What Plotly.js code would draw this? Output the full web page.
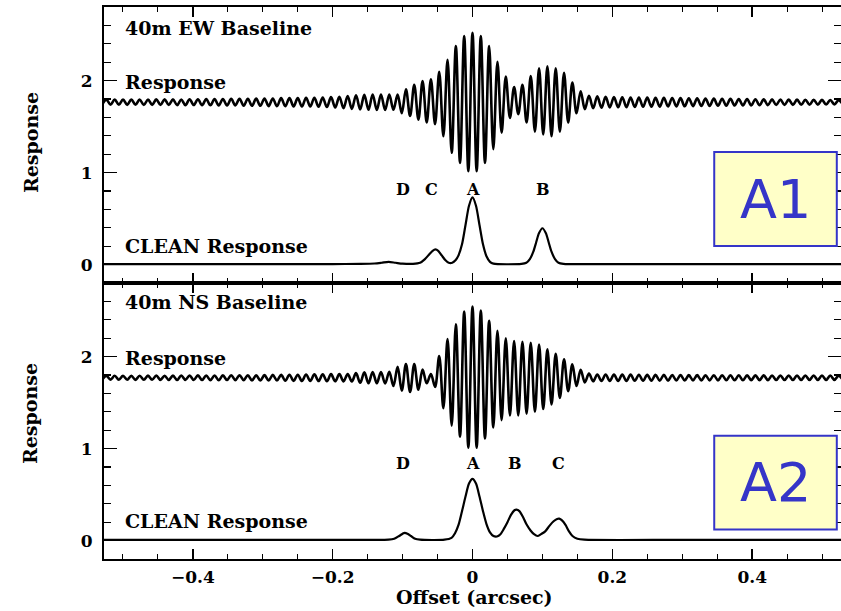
<!DOCTYPE html>
<html>
<head>
<meta charset="utf-8">
<script src="https://cdn.plot.ly/plotly-3.0.1.min.js"></script>
<style>html,body{margin:0;padding:0;background:#fff;}#chart{width:841px;height:611px;}</style>
</head>
<body>
<div id="chart"></div>
<script>
// ---------------- DATA ----------------
// Fringe "Response": half-amplitude of each successive extremum (half-cycle),
// listed left to right. Left arrays end at the extremum just left of 0.
const fringeHalfPeriod = 0.00595;   // arcsec between a crest and the next trough
const ewBaseline = 1.765;
const nsBaseline = 1.77;

const ewAmpLeft = [
  0.026,0.028,0.027,0.029,0.028,0.03,0.029,0.03,0.028,0.03,0.031,0.03,0.029,0.031,0.03,0.032,0.03,0.031,0.032,0.03,0.032,0.033,0.031,0.033,0.032,0.034,0.033,0.034,0.035,0.034,
  0.035,0.036,0.035,0.037,0.038,0.037,0.039,0.04,0.039,0.041,0.042,0.041,0.043,0.044,0.043,0.045,0.046,0.045,0.047,0.048,0.047,0.049,0.05,0.05,
  0.052,0.055,0.058,0.06,0.065,0.068,
  0.072,0.075,0.078,0.08,0.082,0.083,0.085,0.084,0.085,0.083,0.082,
  0.083,0.12,0.14,0.15,0.19,0.19,0.23,0.22,0.25,0.24,0.33,0.37,0.46,0.55,0.61,0.66,0.72,0.75
];
const ewAmpCenter = 0.755;
const ewAmpRight = [
  0.75,0.72,0.66,0.61,0.51,0.44,0.33,0.28,0.17,0.165,0.13,0.19,0.22,0.285,0.32,0.37,0.35,0.39,0.37,0.37,0.32,0.32,0.22,0.215,0.12,0.12,0.075,0.07,0.065,0.065,
  0.06,0.058,0.056,0.055,0.055,0.054,0.053,0.052,0.052,0.051,0.05,0.05,0.049,0.048,0.048,0.047,0.046,0.046,0.045,0.044,0.044,0.043,0.042,0.042,0.041,0.04,0.04,0.039,0.038,
  0.038,0.037,0.037,0.036,0.035,0.035,0.034,0.034,0.033,0.033,0.032,0.032,0.031,0.031,0.03,0.03,0.029,0.029,0.028,0.028,0.027,0.027,0.026,0.026,0.025,0.025,0.024,0.024,0.023,0.023
];

const nsAmpLeft = [
  0.02,0.021,0.02,0.022,0.021,0.02,0.022,0.021,0.023,0.022,0.021,0.023,0.022,0.024,0.023,0.022,0.024,0.023,0.025,0.024,0.023,0.025,0.024,0.026,0.025,0.024,0.026,0.025,0.027,0.026,0.025,0.027,0.026,0.028,0.027,0.028,0.029,0.028,0.03,0.029,0.03,0.031,0.03,0.032,
  0.032,0.033,0.034,0.033,0.035,0.036,0.035,0.037,0.036,0.038,0.037,0.039,0.038,0.04,0.039,0.041,0.04,
  0.05,0.055,0.058,0.06,0.062,0.06,0.063,0.062,
  0.065,0.09,0.12,0.14,0.15,0.155,0.15,0.13,0.09,0.06,0.04,0.1,0.235,0.33,0.42,0.52,0.58,0.64,0.72,0.76
];
const nsAmpCenter = 0.775;
const nsAmpRight = [
  0.76,0.73,0.66,0.62,0.54,0.51,0.46,0.43,0.41,0.40,0.41,0.39,0.39,0.38,0.37,0.36,0.34,0.31,0.29,0.26,0.22,0.2,0.145,0.145,0.09,0.087,0.05,0.045,0.038,0.036,
  0.036,0.036,0.035,0.035,0.035,0.034,0.034,0.034,0.033,0.033,0.033,0.032,0.032,0.032,0.031,0.031,0.031,0.03,0.03,0.03,0.03,0.029,0.029,0.029,0.029,0.028,0.028,0.028,0.028,
  0.028,0.027,0.027,0.027,0.027,0.027,0.026,0.026,0.026,0.026,0.026,0.026,0.025,0.025,0.025,0.025,0.025,0.025,0.025,0.024,0.024,0.024,0.024,0.024,0.024,0.024,0.024,0.023,0.023,0.023
];

// CLEAN Response samples (offset in arcsec, response)
const ewCleanX = [-0.53,-0.4,-0.3,-0.2,-0.16,-0.14,-0.13,-0.12,-0.11,-0.1,-0.085,-0.075,-0.068,-0.062,-0.057,-0.053,-0.049,-0.044,-0.039,-0.034,-0.029,-0.024,-0.02,-0.015,-0.01,-0.005,0,0.005,0.01,0.015,0.02,0.025,0.03,0.07,0.077,0.082,0.087,0.091,0.095,0.1,0.105,0.109,0.113,0.118,0.123,0.13,0.2,0.3,0.4,0.53];
const ewCleanY = [0.005,0.005,0.006,0.006,0.008,0.012,0.02,0.03,0.02,0.01,0.008,0.02,0.06,0.11,0.15,0.165,0.15,0.1,0.05,0.02,0.02,0.05,0.1,0.22,0.43,0.64,0.73,0.64,0.43,0.22,0.09,0.03,0.01,0.008,0.02,0.06,0.14,0.24,0.34,0.395,0.34,0.24,0.14,0.06,0.02,0.008,0.006,0.005,0.006,0.005];

const nsCleanX = [-0.53,-0.3,-0.15,-0.12,-0.112,-0.105,-0.1,-0.097,-0.093,-0.088,-0.082,-0.075,-0.04,-0.03,-0.025,-0.02,-0.015,-0.01,-0.005,0,0.005,0.01,0.015,0.02,0.025,0.03,0.035,0.04,0.045,0.05,0.055,0.06,0.063,0.067,0.072,0.077,0.083,0.088,0.093,0.098,0.104,0.11,0.116,0.121,0.124,0.128,0.133,0.138,0.143,0.15,0.16,0.3,0.53];
const nsCleanY = [0.008,0.008,0.008,0.01,0.02,0.05,0.075,0.085,0.075,0.05,0.02,0.01,0.01,0.03,0.08,0.17,0.32,0.48,0.62,0.67,0.62,0.48,0.32,0.18,0.09,0.05,0.045,0.07,0.13,0.2,0.28,0.33,0.337,0.32,0.26,0.18,0.11,0.07,0.05,0.07,0.1,0.16,0.21,0.235,0.238,0.22,0.17,0.1,0.05,0.02,0.01,0.008,0.008];

// Component labels
const ewLabels = ['D','C','A','B'];
const ewLabelX = [-0.1,-0.059,0.001,0.101];
const nsLabels = ['D','A','B','C'];
const nsLabelX = [-0.099,0.0,0.061,0.123];

// ---------------- BUILD ----------------
function fringe(left, center, right, base){
  const amps = left.concat([center], right);
  const n0 = left.length;
  const x = [], y = [];
  amps.forEach((a, i) => {
    const j = i - n0;
    x.push(j * fringeHalfPeriod);
    y.push(base + (j % 2 === 0 ? a : -a));
  });
  return {x, y};
}
const ew = fringe(ewAmpLeft, ewAmpCenter, ewAmpRight, ewBaseline);
const ns = fringe(nsAmpLeft, nsAmpCenter, nsAmpRight, nsBaseline);

const lineStyle = {color:'black', width:2.6, shape:'spline', smoothing:1};
const cleanStyle = {color:'black', width:2.2, shape:'spline', smoothing:0.7};

const traces = [
  {x: ew.x, y: ew.y, xaxis:'x2', yaxis:'y2', mode:'lines', line: lineStyle, hoverinfo:'skip'},
  {x: ewCleanX, y: ewCleanY, xaxis:'x2', yaxis:'y2', mode:'lines', line: cleanStyle, hoverinfo:'skip'},
  {x: ns.x, y: ns.y, xaxis:'x', yaxis:'y', mode:'lines', line: lineStyle, hoverinfo:'skip'},
  {x: nsCleanX, y: nsCleanY, xaxis:'x', yaxis:'y', mode:'lines', line: cleanStyle, hoverinfo:'skip'}
];

const serif = {family:'DejaVu Serif, Liberation Serif, serif', size:17, color:'black', weight:'bold'};
const xCommon = {
  range:[-0.527,0.527], tick0:0, dtick:0.2, ticks:'inside', ticklen:10, tickwidth:1.5, tickcolor:'black',
  minor:{dtick:0.05, tick0:0, ticks:'inside', ticklen:5, tickwidth:1.2, tickcolor:'black', showgrid:false},
  showline:true, linewidth:2, linecolor:'black', mirror:'ticks', showgrid:false, zeroline:false,
  tickfont: serif, ticklabelstandoff: 2
};
const yCommon = {
  range:[-0.2,2.8], tickvals:[0,1,2], ticks:'inside', ticklen:13, tickwidth:1.5, tickcolor:'black',
  minor:{dtick:0.2, tick0:0, ticks:'inside', ticklen:7, tickwidth:1.2, tickcolor:'black', showgrid:false},
  showline:true, linewidth:2, linecolor:'black', mirror:'ticks', showgrid:false, zeroline:false,
  tickfont: serif, ticklabelstandoff: 6
};

const annFont = {family:'DejaVu Serif, Liberation Serif, serif', size:19, color:'black', weight:'bold'};
const annotations = [
  {xref:'x2', yref:'y2', x:-0.5, y:2.57, text:'40m EW Baseline', showarrow:false, xanchor:'left', yanchor:'middle', font:annFont},
  {xref:'x2', yref:'y2', x:-0.5, y:1.98, text:'Response', showarrow:false, xanchor:'left', yanchor:'middle', font:annFont},
  {xref:'x2', yref:'y2', x:-0.5, y:0.2, text:'CLEAN Response', showarrow:false, xanchor:'left', yanchor:'middle', font:annFont},
  {xref:'x', yref:'y', x:-0.5, y:2.59, text:'40m NS Baseline', showarrow:false, xanchor:'left', yanchor:'middle', font:annFont},
  {xref:'x', yref:'y', x:-0.5, y:1.98, text:'Response', showarrow:false, xanchor:'left', yanchor:'middle', font:annFont},
  {xref:'x', yref:'y', x:-0.5, y:0.21, text:'CLEAN Response', showarrow:false, xanchor:'left', yanchor:'middle', font:annFont},
  {xref:'paper', yref:'paper', x:-0.1, y:0.754, text:'Response', textangle:-90, showarrow:false, xanchor:'center', yanchor:'middle', font:annFont},
  {xref:'paper', yref:'paper', x:-0.1, y:0.263, text:'Response', textangle:-90, showarrow:false, xanchor:'center', yanchor:'middle', font:annFont},
  {xref:'paper', yref:'paper', x:0.503, y:-0.069, text:'Offset (arcsec)', showarrow:false, xanchor:'center', yanchor:'middle', font:annFont},
  {xref:'x2', yref:'y2', x:0.434, y:0.713, text:'A1', showarrow:false, xanchor:'center', yanchor:'middle', font:{family:'DejaVu Sans, Verdana, sans-serif', size:54, color:'#3535c8'}},
  {xref:'x', yref:'y', x:0.434, y:0.63, text:'A2', showarrow:false, xanchor:'center', yanchor:'middle', font:{family:'DejaVu Sans, Verdana, sans-serif', size:54, color:'#3535c8'}}
];
ewLabels.forEach((t,i)=>annotations.push({xref:'x2', yref:'y2', x:ewLabelX[i], y:0.82, text:t, showarrow:false, xanchor:'center', yanchor:'middle', font:{...annFont, size:16}}));
nsLabels.forEach((t,i)=>annotations.push({xref:'x', yref:'y', x:nsLabelX[i], y:0.84, text:t, showarrow:false, xanchor:'center', yanchor:'middle', font:{...annFont, size:16}}));

const shapes = [
  {type:'rect', xref:'x2', yref:'y2', x0:0.3457, x1:0.521, y0:0.202, y1:1.224, fillcolor:'#ffffc8', line:{color:'#3535c8', width:2}, layer:'above'},
  {type:'rect', xref:'x', yref:'y', x0:0.3457, x1:0.521, y0:0.12, y1:1.141, fillcolor:'#ffffc8', line:{color:'#3535c8', width:2}, layer:'above'}
];

const layout = {
  width:841, height:611,
  margin:{l:104, r:0, t:7, b:52, pad:0},
  paper_bgcolor:'white', plot_bgcolor:'white',
  showlegend:false,
  xaxis: Object.assign({}, xCommon, {domain:[0,1], anchor:'y'}),
  xaxis2: Object.assign({}, xCommon, {domain:[0,1], anchor:'y2', matches:'x', showticklabels:false}),
  yaxis: Object.assign({}, yCommon, {domain:[0,0.5], anchor:'x'}),
  yaxis2: Object.assign({}, yCommon, {domain:[0.5,1], anchor:'x2'}),
  annotations, shapes
};

Plotly.newPlot('chart', traces, layout, {staticPlot:true, displayModeBar:false});
</script>
</body>
</html>
